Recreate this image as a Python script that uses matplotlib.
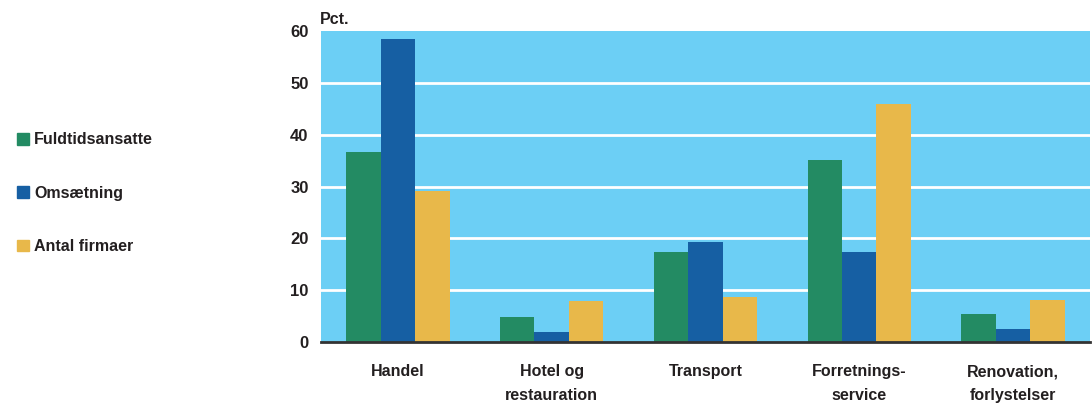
import matplotlib
matplotlib.use("Agg")
import matplotlib.pyplot as plt
import numpy as np
from matplotlib.patches import Patch

plt.rcParams['font.family'] = ['Liberation Sans', 'DejaVu Sans']
plt.rcParams['font.weight'] = 'bold'

# data
categories = ["Handel", "Hotel og\nrestauration", "Transport", "Forretnings-\nservice", "Renovation,\nforlystelser"]
series = ["Fuldtidsansatte", "Omsætning", "Antal firmaer"]
fuldtid = [36.7, 4.8, 17.4, 35.1, 5.4]
omsaetning = [58.5, 1.9, 19.3, 17.4, 2.5]
firmaer = [29.1, 7.9, 8.7, 46.0, 8.1]
yticks = [0, 10, 20, 30, 40, 50, 60]

colors = ["#238B63", "#165FA3", "#E8B84A"]
bg = "#6CCFF5"
txt = "#231F20"

fig = plt.figure(figsize=(10.92, 4.04), dpi=100)
ax = fig.add_axes([0.294, 0.153, 0.704, 0.770])
ax.set_facecolor(bg)

x = np.arange(len(categories))
w = 0.224
for k, vals in enumerate([fuldtid, omsaetning, firmaer]):
    ax.bar(x + (k - 1) * w, vals, w, color=colors[k], zorder=3)

ax.set_xlim(-0.5, len(categories) - 0.5)
ax.set_ylim(0, 60)
ax.set_yticks(yticks)
for t in yticks[1:-1]:
    ax.axhline(t, color="white", lw=2, zorder=1)

ax.set_xticks(x)
ax.set_xticklabels(categories, fontsize=11.5, color=txt, linespacing=1.7)
ax.tick_params(axis="x", length=0, pad=16)
ax.tick_params(axis="y", length=0, pad=9, labelsize=12, labelcolor=txt)

for s in ["top", "right", "left"]:
    ax.spines[s].set_visible(False)
ax.spines["bottom"].set_color("#333333")
ax.spines["bottom"].set_linewidth(2)
ax.spines["bottom"].set_zorder(4)

fig.text(0.293, 0.934, "Pct.", fontsize=11.5, color=txt, ha="left", va="bottom")

handles = [Patch(color=c) for c in colors]
fig.legend(handles, series, loc="center left", bbox_to_anchor=(0.002, 0.522),
           frameon=False, fontsize=11.5, labelspacing=2.4,
           handlelength=0.75, handleheight=0.75, handletextpad=0.35,
           labelcolor=txt)

fig.savefig("out.png", dpi=100)
